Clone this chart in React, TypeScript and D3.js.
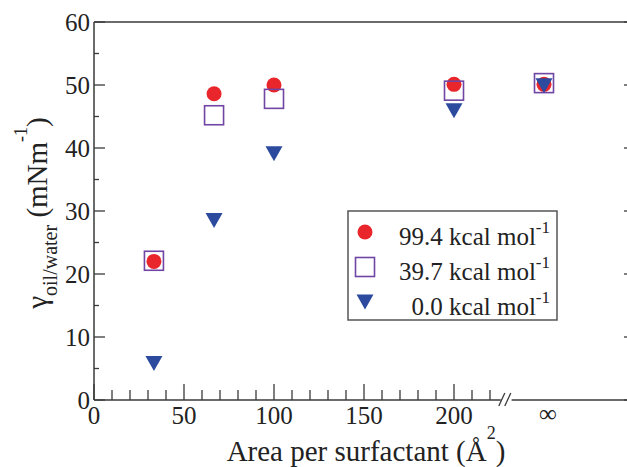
import React from "react";
import * as d3 from "d3";

// Area per surfactant (Å^2); Infinity marks the isolated-interface column
const areaPerSurfactant = [33.3, 66.7, 100, 200, Infinity];
// Interfacial tension γ oil/water (mN m^-1) for each adsorption energy
const gamma994 = [22.0, 48.6, 50.0, 50.1, 50.1];
const gamma397 = [22.1, 45.2, 47.8, 49.1, 50.3];
const gamma00 = [5.8, 28.5, 39.1, 45.9, 49.9];

const seriesLabels = ["99.4 kcal mol", "39.7 kcal mol", "0.0 kcal mol"];
const xMajorTicks = [0, 50, 100, 150, 200];
const yMajorTicks = [0, 10, 20, 30, 40, 50, 60];
const INF_POS = 250;

const W = 627;
const H = 467;
const FONT =
  '"Liberation Serif", LiberationSerif, "Times New Roman", Times, Tinos, "Nimbus Roman", "Nimbus Roman No9 L", "DejaVu Serif", "Noto Serif", FreeSerif, serif';

const RED = "#e8262b";
const PURPLE = "#7045a3";
const BLUE = "#2c4a9e";
const AXIS = "#3a3a3a";
const TEXT = "#222";

const x = d3.scaleLinear().domain([0, 300]).range([94, 634]);
const y = d3.scaleLinear().domain([0, 60]).range([400, 22]);
const xPos = (a: number) => x(Number.isFinite(a) ? a : INF_POS);

const textStyle = (size: number): React.CSSProperties => ({ fontFamily: FONT, fontSize: size, fill: TEXT });

const CircleMark = ({ cx, cy }: { cx: number; cy: number }) => (
  <circle cx={cx} cy={cy} r={7.5} fill={RED} />
);
const SquareMark = ({ cx, cy }: { cx: number; cy: number }) => (
  <rect x={cx - 9.5} y={cy - 9.5} width={19} height={19} fill="none" stroke={PURPLE} strokeWidth={1.6} />
);
const TriangleMark = ({ cx, cy }: { cx: number; cy: number }) => (
  <path d={`M${cx - 8.5},${cy - 7.5}L${cx + 8.5},${cy - 7.5}L${cx},${cy + 7.5}Z`} fill={BLUE} />
);

export default function App() {
  const yMinor = d3.range(5, 60, 10);
  const xMinor = d3.range(10, 221, 10).filter((v) => v % 50 !== 0);
  const breakStart = x(226);
  const breakEnd = x(232);
  const legendX = 348;
  const legendY = 211;
  const rowY = [245, 280, 315];
  const marks = [CircleMark, SquareMark, TriangleMark];

  return (
    <svg width={W} height={H} style={{ position: "absolute", left: 0, top: 0, background: "#fff" }}>
      {/* frame: top line and right axis */}
      <line x1={x(0)} x2={x(300)} y1={y(60)} y2={y(60)} stroke={AXIS} strokeWidth={1.5} />
      <line x1={x(300)} x2={x(300)} y1={y(0)} y2={y(60)} stroke={AXIS} strokeWidth={1.5} />
      {yMajorTicks.map((v) => (
        <line key={"rM" + v} x1={x(300) - 10} x2={x(300)} y1={y(v)} y2={y(v)} stroke={AXIS} strokeWidth={1.3} />
      ))}
      {yMinor.map((v) => (
        <line key={"rm" + v} x1={x(300) - 6} x2={x(300)} y1={y(v)} y2={y(v)} stroke={AXIS} strokeWidth={1.3} />
      ))}

      {/* left axis */}
      <line x1={x(0)} x2={x(0)} y1={y(0)} y2={y(60)} stroke={AXIS} strokeWidth={1.5} />
      {yMajorTicks.map((v) => (
        <g key={"yM" + v}>
          <line x1={x(0)} x2={x(0) + 11} y1={y(v)} y2={y(v)} stroke={AXIS} strokeWidth={1.3} />
          <text x={x(0) - 4} y={y(v)} dy="0.34em" textAnchor="end" style={textStyle(25)}>
            {v}
          </text>
        </g>
      ))}
      {yMinor.map((v) => (
        <line key={"ym" + v} x1={x(0)} x2={x(0) + 5} y1={y(v)} y2={y(v)} stroke={AXIS} strokeWidth={1.3} />
      ))}

      {/* bottom axis with a break before the ∞ column */}
      <line x1={x(0)} x2={breakStart} y1={y(0)} y2={y(0)} stroke={AXIS} strokeWidth={1.5} />
      <line x1={breakEnd} x2={x(300)} y1={y(0)} y2={y(0)} stroke={AXIS} strokeWidth={1.5} />
      {[0, 1].map((i) => (
        <line
          key={"brk" + i}
          x1={breakStart - 2 + i * 6}
          x2={breakStart + 4 + i * 6}
          y1={y(0) + 6}
          y2={y(0) - 7}
          stroke={AXIS}
          strokeWidth={1.3}
        />
      ))}
      {xMajorTicks.map((v) => (
        <g key={"xM" + v}>
          <line x1={x(v)} x2={x(v)} y1={y(0)} y2={y(0) - 16} stroke={AXIS} strokeWidth={1.3} />
          <text x={x(v)} y={y(0) + 24} textAnchor="middle" style={textStyle(25)}>
            {v}
          </text>
        </g>
      ))}
      {xMinor.map((v) => (
        <line key={"xm" + v} x1={x(v)} x2={x(v)} y1={y(0)} y2={y(0) - 10} stroke={AXIS} strokeWidth={1.3} />
      ))}
      <text x={x(INF_POS) + 4} y={y(0) + 22} textAnchor="middle" style={textStyle(25)}>
        ∞
      </text>

      {/* axis titles */}
      <text x={366} y={461} textAnchor="middle" style={textStyle(29)}>
        <tspan>Area per surfactant (Å</tspan>
        <tspan dy={-22} style={{ fontSize: 18 }}>2</tspan>
        <tspan dy={22}>)</tspan>
      </text>
      <text transform="translate(47,213) rotate(-90)" textAnchor="middle" style={textStyle(29)}>
        <tspan>γ</tspan>
        <tspan dy={10} style={{ fontSize: 20 }}>oil/water</tspan>
        <tspan dy={-10}> (mNm</tspan>
        <tspan dy={-20} style={{ fontSize: 18 }}>-1</tspan>
        <tspan dy={20}>)</tspan>
      </text>

      {/* data */}
      {areaPerSurfactant.map((a, i) => (
        <CircleMark key={"c" + i} cx={xPos(a)} cy={y(gamma994[i])} />
      ))}
      {areaPerSurfactant.map((a, i) => (
        <SquareMark key={"s" + i} cx={xPos(a)} cy={y(gamma397[i])} />
      ))}
      {areaPerSurfactant.map((a, i) => (
        <TriangleMark key={"t" + i} cx={xPos(a)} cy={y(gamma00[i])} />
      ))}

      {/* legend */}
      <rect x={legendX} y={legendY} width={209} height={109} fill="#fff" stroke="#555" strokeWidth={1.5} />
      {seriesLabels.map((label, i) => {
        const Mark = marks[i];
        return (
          <g key={"lg" + i}>
            <Mark cx={365} cy={rowY[i] - 13} />
            <text x={550} y={rowY[i]} textAnchor="end" style={textStyle(25)}>
              <tspan>{label}</tspan>
              <tspan dy={-12} style={{ fontSize: 17 }}>-1</tspan>
            </text>
          </g>
        );
      })}
    </svg>
  );
}
